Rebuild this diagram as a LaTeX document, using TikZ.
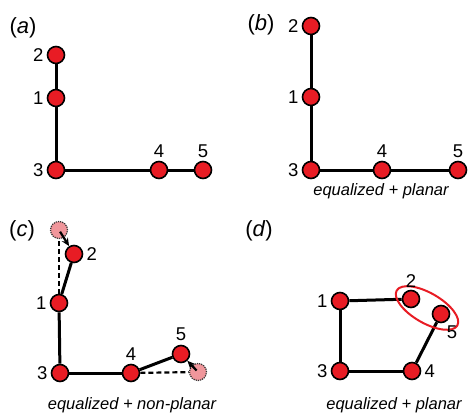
\documentclass[tikz,border=0pt]{standalone}
\usepackage{fontspec}
\setmainfont{Liberation Sans}
\usepackage{xcolor}
\usetikzlibrary{arrows.meta, positioning}
\definecolor{dotred}{RGB}{232,28,36}
\definecolor{ghostpink}{RGB}{240,150,155}

\begin{document}
\begin{tikzpicture}[x=1pt, y=-1pt,
  dot/.style={circle, draw=black, line width=1.6pt, fill=dotred,
    minimum size=17pt, inner sep=0pt},
  ghost/.style={circle, draw=black!80, densely dotted, line width=1.2pt, fill=ghostpink,
    minimum size=17pt, inner sep=0pt},
  num/.style={inner sep=0pt, font=\fontsize{18.5}{18.5}\selectfont},
  panel/.style={inner sep=0pt, font=\fontsize{22}{22}\selectfont},
  caption/.style={inner sep=0pt, font=\fontsize{16.5}{16.5}\selectfont\itshape},
  bond/.style={line width=3pt},
  ghostbond/.style={line width=2.2pt, dash pattern=on 5pt off 3pt},
  arr/.style={-{Stealth[length=8pt, width=7pt]}, line width=2.2pt, shorten <=2pt}
]
  \useasboundingbox (0,0) rectangle (468,412);

  % (a)
  \node[panel] (pa) at (23,28) {(\textit{a})};
  \node[dot] (a2) at (56,55) {};
  \node[dot] (a1) at (56,98) {};
  \node[dot] (a3) at (56,170) {};
  \node[dot] (a4) at (159,170) {};
  \node[dot] (a5) at (203,170) {};
  \draw[bond] (a2) -- (a1);
  \draw[bond] (a1) -- (a3);
  \draw[bond] (a3) -- (a4);
  \draw[bond] (a4) -- (a5);
  \node[num, left=3pt of a2] (la2) {2};
  \node[num, left=3pt of a1] (la1) {1};
  \node[num, left=3pt of a3] (la3) {3};
  \node[num, above=3pt of a4] (la4) {4};
  \node[num, above=3pt of a5] (la5) {5};

  % (b)
  \node[panel] (pb) at (261,25) {(\textit{b})};
  \node[dot] (b2) at (311,26) {};
  \node[dot] (b1) at (311,97) {};
  \node[dot] (b3) at (311,170) {};
  \node[dot] (b4) at (382,170) {};
  \node[dot] (b5) at (458,170) {};
  \draw[bond] (b2) -- (b1);
  \draw[bond] (b1) -- (b3);
  \draw[bond] (b3) -- (b4);
  \draw[bond] (b4) -- (b5);
  \node[num, left=3pt of b2] (lb2) {2};
  \node[num, left=3pt of b1] (lb1) {1};
  \node[num, left=3pt of b3] (lb3) {3};
  \node[num, above=3pt of b4] (lb4) {4};
  \node[num, above=3pt of b5] (lb5) {5};
  \node[caption] (capb) at (381,191) {equalized + planar};

  % (c)
  \node[panel] (pc) at (22,231) {(\textit{c})};
  \node[ghost] (c2g) at (59,230) {};
  \node[ghost] (c5g) at (198,372) {};
  \node[dot] (c1) at (59,303) {};
  \node[dot] (c3) at (60,373) {};
  \node[dot] (c4) at (131,373) {};
  \draw[ghostbond] (c1) -- (c2g);
  \draw[ghostbond] (c4) -- (c5g);
  \node[dot] (c2) at (74,254) {};
  \node[dot] (c5) at (181,354) {};
  \draw[bond] (c1) -- (c2);
  \draw[bond] (c1) -- (c3);
  \draw[bond] (c3) -- (c4);
  \draw[bond] (c4) -- (c5);
  \draw[arr] (c2g.center) -- (c2);
  \draw[arr] (c5g.center) -- (c5);
  \node[num, right=3pt of c2] (lc2) {2};
  \node[num, left=3pt of c1] (lc1) {1};
  \node[num, left=3pt of c3] (lc3) {3};
  \node[num, above=3pt of c4] (lc4) {4};
  \node[num, above=4pt of c5] (lc5) {5};
  \node[caption] (capc) at (132,405) {equalized + non-planar};

  % (d)
  \node[panel] (pd) at (259,231) {(\textit{d})};
  \node[dot] (d1) at (340,301) {};
  \node[dot] (d2) at (411,299) {};
  \node[dot] (d5) at (441,314) {};
  \node[dot] (d3) at (340,371) {};
  \node[dot] (d4) at (412,371) {};
  \draw[bond] (d1) -- (d2);
  \draw[bond] (d1) -- (d3);
  \draw[bond] (d3) -- (d4);
  \draw[bond] (d4) -- (d5);
  \draw[dotred, line width=2pt] (427,308) ellipse [x radius=35pt, y radius=15pt, rotate=-30];
  \node[num, left=3pt of d1] (ld1) {1};
  \node[num, above=2pt of d2] (ld2) {2};
  \node[num, left=3pt of d3] (ld3) {3};
  \node[num, right=3pt of d4] (ld4) {4};
  \node[num, below right=5pt and -1pt of d5] (ld5) {5};
  \node[caption] (capd) at (394,405) {equalized + planar};
\end{tikzpicture}
\end{document}
